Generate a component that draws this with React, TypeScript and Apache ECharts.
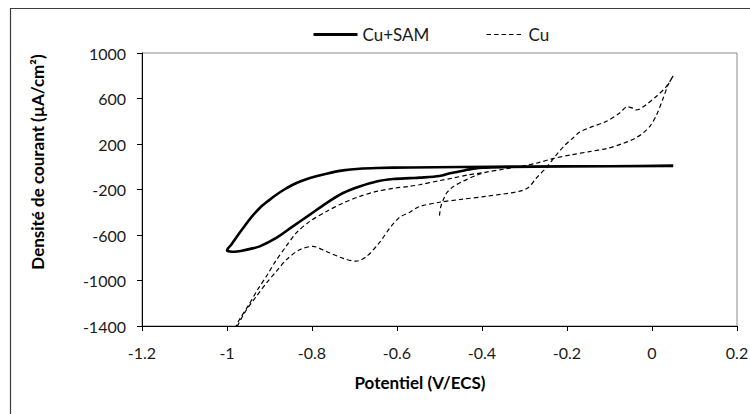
import React, { useEffect, useRef } from "react";
import * as echarts from "echarts";

// Cu+SAM (solid) – potential (V/ECS) and current density (µA/cm²)
const cuSamX = [0.05, -0.1, -0.3, -0.45, -0.57, -0.648, -0.688, -0.727, -0.766, -0.805, -0.825, -0.845, -0.865, -0.884, -0.903, -0.923, -0.943, -0.962, -0.977, -0.99, -1.0, -0.993, -0.982, -0.965, -0.945, -0.923, -0.884, -0.845, -0.805, -0.766, -0.727, -0.688, -0.648, -0.609, -0.57, -0.547, -0.5, -0.476, -0.445, -0.42, -0.398, -0.35, -0.2, 0.05];
const cuSamY = [8, 5, 2, -2, -6, -11, -17, -32, -61, -99, -126, -158, -200, -246, -300, -363, -445, -538, -615, -685, -733, -745, -747, -738, -722, -700, -626, -524, -421, -319, -231, -173, -129, -108, -100, -96, -82, -58, -35, -18, -8, -3, 2, 8];

// Cu (dashed)
const cuX = [-0.5, -0.497, -0.492, -0.484, -0.468, -0.445, -0.413, -0.39, -0.35, -0.311, -0.27, -0.233, -0.19, -0.147, -0.107, -0.068, -0.04, -0.02, -0.005, 0.01, 0.026, 0.038, 0.05, 0.034, 0.01, -0.013, -0.03, -0.037, -0.045, -0.058, -0.076, -0.107, -0.147, -0.17, -0.186, -0.205, -0.225, -0.248, -0.272, -0.29, -0.311, -0.39, -0.452, -0.5, -0.547, -0.57, -0.594, -0.617, -0.641, -0.672, -0.696, -0.727, -0.766, -0.798, -0.829, -0.86, -0.884, -0.907, -0.931, -0.954, -0.974, -0.985, -0.982, -0.971, -0.951, -0.928, -0.905, -0.886, -0.861, -0.837, -0.805, -0.766, -0.727, -0.688, -0.648, -0.609, -0.57, -0.547, -0.5, -0.468, -0.43, -0.39];
const cuY = [-430, -350, -300, -235, -175, -128, -75, -48, -22, 2, 33, 72, 105, 133, 160, 205, 250, 300, 355, 450, 600, 720, 800, 706, 618, 548, 505, 500, 515, 528, 473, 400, 343, 305, 253, 190, 105, -5, -99, -180, -215, -260, -288, -312, -350, -400, -445, -540, -665, -790, -830, -805, -745, -700, -729, -817, -920, -1022, -1140, -1257, -1389, -1490, -1430, -1345, -1228, -1081, -949, -832, -700, -582, -480, -393, -319, -261, -217, -190, -172, -158, -122, -99, -70, -48];

const xMin = -1.2;
const xMax = 0.2;
const xStep = 0.2;
const yMin = -1400;
const yMax = 1000;
const yStep = 400;

const zip = (xs: number[], ys: number[]) => xs.map((x, i) => [x, ys[i]]);

export default function App() {
  const ref = useRef<HTMLDivElement>(null);
  useEffect(() => {
    const chart = echarts.init(ref.current!, null, { renderer: "svg" });
    const font = "Lato";
    const labelColor = "#1a1a1a";
    const legendBase = {
      top: 26,
      padding: 0,
      itemHeight: 16,
      selectedMode: false,
      textStyle: { fontFamily: font, fontSize: 17, color: labelColor },
      itemStyle: { opacity: 0, color: "transparent", borderWidth: 0 },
    };
    chart.setOption({
      animation: false,
      backgroundColor: "#ffffff",
      textStyle: { fontFamily: font },
      grid: {
        left: 142,
        right: 13,
        top: 53,
        bottom: 88,
        show: true,
        borderColor: "#8a8a8a",
        borderWidth: 1,
        backgroundColor: "transparent",
        outerBoundsMode: "none",
      },
      legend: [
        {
          ...legendBase,
          left: 312,
          itemWidth: 44,
          data: ["Cu+SAM"],
          lineStyle: { width: 3, color: "#000" },
        },
        {
          ...legendBase,
          left: 486,
          itemWidth: 37,
          data: ["Cu"],
          lineStyle: { width: 1.2, color: "#000", type: [4.5, 3] },
        },
      ],
      xAxis: {
        type: "value",
        min: xMin,
        max: xMax,
        interval: xStep,
        axisLine: { show: true, onZero: false, lineStyle: { color: "#000", width: 1 } },
        axisTick: { show: true, length: 5, lineStyle: { color: "#000" } },
        splitLine: { show: false },
        axisLabel: {
          margin: 18,
          fontSize: 16,
          fontFamily: font,
          color: labelColor,
          formatter: (v: number) => String(Math.round(v * 10) / 10),
        },
      },
      yAxis: {
        type: "value",
        min: yMin,
        max: yMax,
        interval: yStep,
        axisLine: { show: true, onZero: false, lineStyle: { color: "#000", width: 1 } },
        axisTick: { show: true, length: 5, lineStyle: { color: "#000" } },
        splitLine: { show: false },
        axisLabel: {
          margin: 16,
          fontSize: 16,
          fontFamily: font,
          color: labelColor,
          formatter: (v: number) => String(Math.round(v)),
        },
      },
      series: [
        {
          name: "Cu+SAM",
          type: "line",
          data: zip(cuSamX, cuSamY),
          symbol: "none",
          smooth: 0.3,
          clip: true,
          lineStyle: { color: "#000", width: 2.6 },
          itemStyle: { color: "#000" },
          z: 3,
        },
        {
          name: "Cu",
          type: "line",
          data: zip(cuX, cuY),
          symbol: "none",
          smooth: 0.3,
          clip: true,
          lineStyle: { color: "#000", width: 1.2, type: [4.5, 3] },
          itemStyle: { color: "#000" },
          z: 2,
        },
      ],
      graphic: [
        {
          type: "rect",
          silent: true,
          z: -10,
          shape: { x: 10.5, y: 8.5, width: 900, height: 600 },
          style: { fill: "none", stroke: "#3c3c3c", lineWidth: 1.2 },
        },
        {
          type: "text",
          silent: true,
          x: 420,
          y: 382,
          style: {
            text: "Potentiel (V/ECS)",
            font: "bold 17px Lato",
            fill: "#000",
            textAlign: "center",
            textVerticalAlign: "middle",
          },
        },
        {
          type: "text",
          silent: true,
          x: 37,
          y: 162,
          rotation: Math.PI / 2,
          style: {
            text: "Densité de courant (µA/cm²)",
            font: "bold 17px Lato",
            fill: "#000",
            textAlign: "center",
            textVerticalAlign: "middle",
          },
        },
      ],
    });
    return () => chart.dispose();
  }, []);
  return (
    <div
      ref={ref}
      style={{ position: "fixed", left: 0, top: 0, width: 750, height: 414, background: "#fff" }}
    />
  );
}
